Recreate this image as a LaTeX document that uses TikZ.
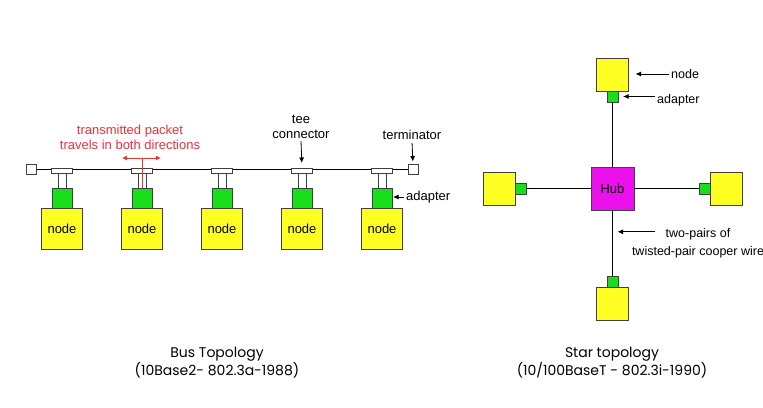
\documentclass[tikz,border=0pt]{standalone}
\usepackage{fontspec}
\setmainfont{Liberation Sans}
\newfontfamily\titlefont{Poppins}
\usetikzlibrary{arrows.meta,positioning,backgrounds}

\definecolor{nodeyellow}{HTML}{FFFF24}
\definecolor{adaptgreen}{HTML}{18E018}
\definecolor{hubpink}{HTML}{EC10EC}
\definecolor{pktred}{HTML}{E8343A}
\definecolor{edgegray}{HTML}{404040}

\begin{document}
\begin{tikzpicture}[
  x=1pt, y=-1pt,
  font=\fontsize{13}{15}\selectfont,
  station/.style={draw=edgegray, fill=nodeyellow, minimum width=41pt, minimum height=41pt, inner sep=0pt, outer sep=0pt},
  adapter/.style={draw=edgegray, fill=adaptgreen, minimum width=20pt, minimum height=20pt, inner sep=0pt, outer sep=0pt},
  tee/.style={draw=edgegray, fill=white, minimum width=21pt, minimum height=5pt, inner sep=0pt, outer sep=0pt},
  stem/.style={draw=edgegray, fill=white, minimum width=8pt, minimum height=15pt, inner sep=0pt, outer sep=0pt},
  term/.style={draw=edgegray, fill=white, minimum size=10pt, inner sep=0pt, outer sep=0pt},
  sstation/.style={draw=edgegray, fill=nodeyellow, minimum width=32pt, minimum height=33pt, inner sep=0pt, outer sep=0pt},
  sadapter/.style={draw=edgegray, fill=adaptgreen, minimum size=11pt, inner sep=0pt, outer sep=0pt},
  hub/.style={draw=edgegray, fill=hubpink, minimum size=43pt, inner sep=0pt, outer sep=0pt},
  bus/.style={line width=1.3pt},
  wire/.style={line width=0.9pt},
  tip/.style={-{Latex[length=5.5pt,width=5pt]}, line width=0.8pt},
  pkt/.style={pktred, line width=0.8pt},
  lab/.style={inner sep=2pt, align=center},
  slab/.style={inner sep=2pt, align=center, font=\fontsize{12.5}{18}\selectfont},
  title/.style={align=center, font=\titlefont\fontsize{14}{15}\selectfont}
]
\useasboundingbox (0,0) rectangle (763,407);

% --- Bus topology: stations with tee connectors ------------------------------
\node[term] (tL) at (31,169.5) {};
\node[term] (tR) at (413,169.5) {};
\foreach \i in {1,...,5}{
  \pgfmathsetmacro{\xc}{62+80*(\i-1)}
  \node[tee] (bar\i) at (\xc,170.5) {};
  \node[stem, below=0pt of bar\i] (stem\i) {};
  \node[adapter, below=0pt of stem\i] (ad\i) {};
  \node[station, below=0pt of ad\i] (n\i) {node};
}
\begin{scope}[on background layer]
  \draw[bus] (tL) -- (tR);
\end{scope}

% --- Bus labels ---------------------------------------------------------------
\node[lab, text=pktred] (pktlbl) at (130,137.5) {transmitted packet\\travels in both directions};
\coordinate (pkL) at (122,158);
\coordinate (pkR) at (161,158);
\draw[pkt, {Latex[length=5pt,width=5pt]}-{Latex[length=5pt,width=5pt]}] (pkL) -- (pkR);
\draw[pkt] (ad2.north) -- (ad2.north |- pkL);

\node[lab] (teelbl) at (301,127) {tee\\connector};
\draw[tip, shorten >=5pt] (teelbl.south) -- (bar4.north);
\node[lab] (termlbl) at (412,135) {terminator};
\draw[tip, shorten <=1pt, shorten >=3pt] (termlbl.south) -- (tR.north);
\node[lab, anchor=west] (adlbl) at (404,197) {adapter};
\draw[tip, shorten >=1pt] (adlbl.west) -- (ad5.east |- adlbl.west);

% --- Star topology --------------------------------------------------------------
\node[hub] (hub) at (612.5,188.5) {Hub};
\node[sadapter, above=65pt of hub] (aT) {};
\node[sstation, above=0pt of aT] (nT) {};
\node[sadapter, left=65pt of hub] (aL) {};
\node[sstation, left=0pt of aL] (nL) {};
\node[sadapter, right=65pt of hub] (aR) {};
\node[sstation, right=0pt of aR] (nR) {};
\node[sadapter, below=66pt of hub] (aB) {};
\node[sstation, below=0pt of aB] (nB) {};

\draw[wire] (hub) -- (aT);
\draw[wire] (hub) -- (aL);
\draw[wire] (hub) -- (aR);
\draw[wire] (hub) -- coordinate[pos=0.33] (w) (aB);

% --- Star labels ----------------------------------------------------------------
\node[slab, anchor=west] (nlbl) at (669,74) {node};
\draw[tip, shorten >=7pt] (nlbl.west) -- (nT.east |- nlbl.west);
\node[slab, anchor=west] (alblS) at (655,100) {adapter};
\draw[tip, shorten >=5pt] (alblS.west |- aT) -- (aT.east);
\node[slab] (wlbl) at (698,243) {two-pairs of\\twisted-pair cooper wire};
\coordinate (wtail) at ([xshift=42pt]w);
\draw[tip, shorten >=5pt] (wtail) -- (w);

% --- Titles ----------------------------------------------------------------------
\node[title] (busT) at (217,363) {Bus Topology\\(10Base2- 802.3a-1988)};
\node[title] (starT) at (612,363) {Star topology\\(10/100BaseT - 802.3i-1990)};

\end{tikzpicture}
\end{document}
